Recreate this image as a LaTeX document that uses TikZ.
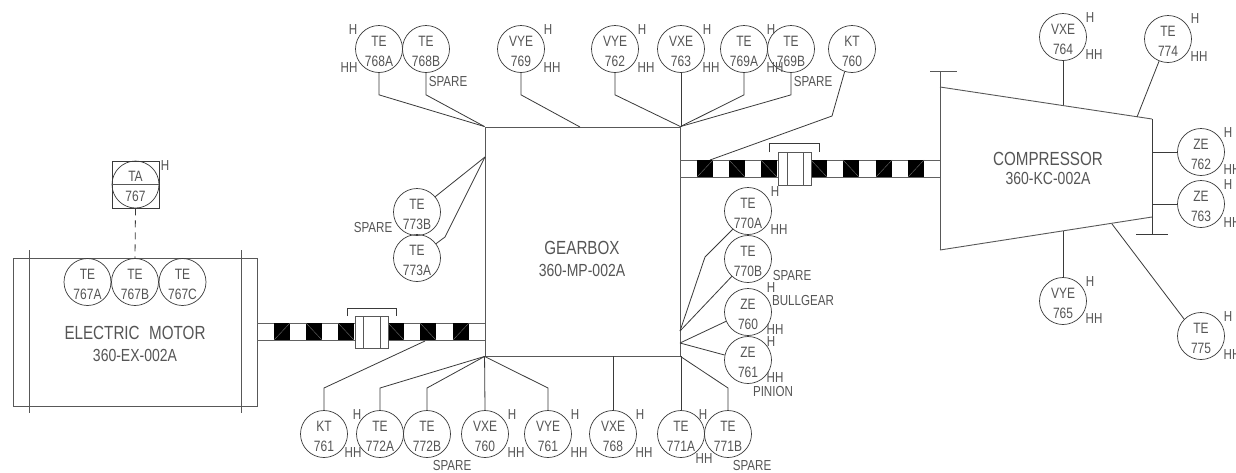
\documentclass[tikz,border=0pt]{standalone}
\usepackage{fontspec}
\setmainfont[FakeStretch=0.8]{Liberation Sans}
\definecolor{ink}{HTML}{3A3A3A}
\definecolor{txt}{HTML}{555555}
\newcounter{lbl}
\newcommand{\inst}[4]{\node[instr] (#1) at (#2) {\rule{0pt}{14.8pt}#3\\#4};}
\newcommand{\tg}[2]{\stepcounter{lbl}\node[tag] (t\arabic{lbl}) at (#1) {#2};}
\newcommand{\sq}[2]{\fill[black] (#1,\shafta) rectangle +(16,17);
  \ifnum#2=1 \draw[diag] (#1,\shafta) ++(0,17) -- ++(16,-17);\else \draw[diag] (#1,\shafta) -- ++(16,17);\fi}
\newcommand{\shafta}{0}
\begin{document}
\begin{tikzpicture}[x=1pt,y=-1pt,
  every node/.style={text=txt},
  instr/.style={circle,draw=ink,line width=0.7pt,minimum size=47pt,inner sep=0pt,align=center,font=\fontsize{15}{20}\selectfont},
  tag/.style={inner sep=0pt,font=\fontsize{14.5}{16}\selectfont},
  title/.style={inner sep=0pt,font=\fontsize{19}{22}\selectfont},
  sub/.style={inner sep=0pt,font=\fontsize{17.5}{19}\selectfont},
  conn/.style={draw=ink,line width=0.8pt},
  body/.style={draw=ink!85,line width=0.9pt},
  diag/.style={draw=gray,line width=0.3pt},
  shaftline/.style={draw=ink!80,line width=0.9pt}]
\useasboundingbox (0,0) rectangle (1236,472);
\fill[white] (0,0) rectangle (1236,472);

% --- equipment bodies
\node[rectangle,body,minimum width=244pt,minimum height=148pt,inner sep=0pt] (motor) at (135,332) {};
\draw[body] (29,250) -- (29,413);
\draw[body] (241,250) -- (241,413);
\node[title] (motorname) at (135,333) {ELECTRIC\hspace{0.5em}MOTOR};
\node[sub] (motortag) at (135,355) {360-EX-002A};

\node[rectangle,body,minimum width=195pt,minimum height=229pt,inner sep=0pt] (gear) at (582.5,241.5) {};
\node[title] (gearname) at (582,248) {GEARBOX};
\node[sub] (geartag) at (582,270) {360-MP-002A};

\coordinate (cTL) at (940,87);
\coordinate (cTR) at (1152,119);
\coordinate (cBR) at (1152,217);
\coordinate (cBL) at (940,250);
\draw[body] (cTL) -- (cTR);
\draw[body] (cBL) -- (cBR);
\draw[body] (940,71) -- (cBL);
\draw[body] (930,71) -- (957,71);
\draw[conn,line width=1pt] (1152,119) -- (1152,234);
\draw[conn,line width=1pt] (1136,234) -- (1168,234);
\node[title] (compname) at (1048,159) {COMPRESSOR};
\node[sub] (comptag) at (1048,178) {360-KC-002A};

% --- left shaft
\draw[shaftline] (257,323) -- (355,323) (257,340) -- (355,340) (388,323) -- (485,323) (388,340) -- (485,340);
\renewcommand{\shafta}{323}
\sq{274}{1}\sq{306}{0}\sq{338}{0}\sq{388}{0}\sq{420}{0}\sq{453}{1}
\draw[body,fill=white] (355,316) rectangle (388,348);
\draw[body] (363,316) -- (363,348) (380,316) -- (380,348);
\draw[conn] (347,316) -- (347,308) -- (396,308) -- (396,316);

% --- right shaft
\draw[shaftline] (680,160) -- (778,160) (680,177) -- (778,177) (811,160) -- (940,160) (811,177) -- (940,177);
\renewcommand{\shafta}{160}
\sq{697}{1}\sq{729}{0}\sq{761}{0}\sq{811}{0}\sq{843}{0}\sq{876}{1}\sq{908}{1}
\draw[body,fill=white] (778,152) rectangle (811,185);
\draw[body] (787,152) -- (787,185) (803,152) -- (803,185);
\draw[conn] (769,152) -- (769,143) -- (819,143) -- (819,152);

% --- alarm
\node[rectangle,draw=ink,line width=0.9pt,minimum size=47pt,inner sep=0pt] (tabox) at (135.5,184.5) {};
\node[instr] (ta767) at (135.5,184.5) {\rule{0pt}{14.8pt}TA\\767};
\draw[body,line width=0.6pt] (ta767.west) -- (ta767.east);
\tg{165,166}{H}
\coordinate (motortop) at (135,258);
\draw[conn,dashed,dash pattern=on 7pt off 5pt] (tabox.south) -- (motortop);

% --- instruments
\inst{te767a}{87.5,282}{TE}{767A}
\inst{te767b}{135,282}{TE}{767B}
\inst{te767c}{182.5,282}{TE}{767C}

\inst{te768a}{379,49}{TE}{768A}
\inst{te768b}{426,49}{TE}{768B}
\inst{vye769}{521,49}{VYE}{769}
\inst{vye762}{615,49}{VYE}{762}
\inst{vxe763}{681,49}{VXE}{763}
\inst{te769a}{744,49}{TE}{769A}
\inst{te769b}{791,49}{TE}{769B}
\inst{kt760}{852,49}{KT}{760}

\inst{te773b}{417,212}{TE}{773B}
\inst{te773a}{417,258}{TE}{773A}

\inst{te770a}{748,211}{TE}{770A}
\inst{te770b}{748,259}{TE}{770B}
\inst{ze760}{748,312}{ZE}{760}
\inst{ze761}{748,360}{ZE}{761}

\inst{kt761}{324,434}{KT}{761}
\inst{te772a}{380,434}{TE}{772A}
\inst{te772b}{427,434}{TE}{772B}
\inst{vxe760}{485,434}{VXE}{760}
\inst{vye761}{548,434}{VYE}{761}
\inst{vxe768}{613,434}{VXE}{768}
\inst{te771a}{681,434}{TE}{771A}
\inst{te771b}{728,434}{TE}{771B}

\inst{vxe764}{1063,37}{VXE}{764}
\inst{te774}{1168,39}{TE}{774}
\inst{ze762}{1201,152}{ZE}{762}
\inst{ze763}{1201,204}{ZE}{763}
\inst{vye765}{1063,301}{VYE}{765}
\inst{te775}{1201,336}{TE}{775}

% --- connector anchors
\coordinate (gTL) at (gear.north west);
\coordinate (gTR) at (gear.north east);
\coordinate (gBL) at (gear.south west);
\coordinate (gBR) at (gear.south east);
\coordinate (gT769) at (580,127);
\coordinate (gL) at (485,157);
\coordinate (gR1) at (680,331);
\coordinate (gR2) at (680,343);
\coordinate (shR) at (710,160);
\coordinate (shL) at (425,341);
\coordinate (c764) at (1063,105);
\coordinate (c774) at (1137,117);
\coordinate (c765) at (1063,231);
\coordinate (c775) at (1112,224);
\coordinate (c762) at (1152,152);
\coordinate (c763) at (1152,204);

% --- connectors
\draw[conn] (te768a.south) -- ++(0,22) -- (gTL);
\draw[conn] (te768b.south) -- ++(0,22) -- (gTL);
\draw[conn] (vye769.south) -- ++(0,22) -- (gT769);
\draw[conn] (vye762.south) -- ++(0,22) -- (gTR);
\draw[conn] (vxe763.south) -- (vxe763.south |- gTR);
\draw[conn] (te769a.south) -- ++(0,22) -- (gTR);
\draw[conn] (te769b.south) -- ++(0,22) -- (gTR);
\draw[conn] (kt760.252) -- (832,116) -- (shR);
\draw[conn] (te773b.40) -- (gL);
\draw[conn] (te773a.37) -- (445,237) -- (gL);
\draw[conn] (te770a.230) -- (705,257) -- (gR1);
\draw[conn] (te770b.227) -- (gR1);
\draw[conn] (ze760.203) -- (gR2);
\draw[conn] (ze761.168) -- (gR2);
\draw[conn] (kt761.north) -- (324,388) -- (shL);
\draw[conn] (te772a.north) -- (380,388) -- (gBL);
\draw[conn] (te772b.north) -- (427,388) -- (gBL);
\draw[conn] (vxe760.north) -- (gBL);
\draw[conn] (vye761.north) -- (548,388) -- (gBL);
\draw[conn] (vxe768.north) -- (vxe768.north |- gBL);
\draw[conn] (te771a.north) -- (te771a.north |- gBR);
\draw[conn] (te771b.north) -- (728,388) -- (gBR);
\draw[conn] (vxe764.south) -- (c764);
\draw[conn] (te774.248) -- (c774);
\draw[conn] (vye765.north) -- (c765);
\draw[conn] (te775.135) -- (c775);
\draw[conn] (ze762.west) -- (c762);
\draw[conn] (ze763.west) -- (c763);

% --- alarm tags
\tg{353,30}{H}\tg{349,68}{HH}\tg{448,82}{SPARE}
\tg{548,30}{H}\tg{552,68}{HH}
\tg{642,30}{H}\tg{646,68}{HH}
\tg{707,30}{H}\tg{711,68}{HH}
\tg{771,30}{H}\tg{775,68}{HH}\tg{813,82}{SPARE}
\tg{373,228}{SPARE}
\tg{775,192}{H}\tg{779,230}{HH}\tg{792,276}{SPARE}
\tg{771,288}{H}\tg{803,301}{BULLGEAR}\tg{775,330}{HH}
\tg{771,342}{H}\tg{775,378}{HH}\tg{773,392}{PINION}
\tg{357,415}{H}\tg{353,453}{HH}\tg{452,465}{SPARE}
\tg{512,415}{H}\tg{516,453}{HH}
\tg{575,415}{H}\tg{579,453}{HH}
\tg{640,415}{H}\tg{644,453}{HH}
\tg{703,415}{H}\tg{704,459}{HH}\tg{752,465}{SPARE}
\tg{1090,18}{H}\tg{1094,55}{HH}
\tg{1195,19}{H}\tg{1199,57}{HH}
\tg{1228,133}{H}\tg{1232,170}{HH}
\tg{1228,185}{H}\tg{1232,223}{HH}
\tg{1090,282}{H}\tg{1094,319}{HH}
\tg{1228,317}{H}\tg{1232,355}{HH}
\end{tikzpicture}
\end{document}
